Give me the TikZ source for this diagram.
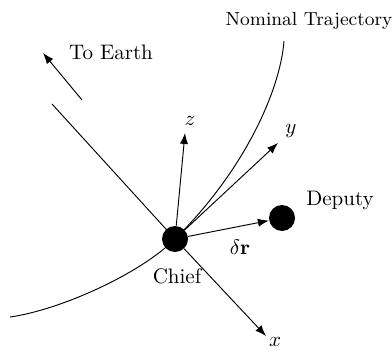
\documentclass[tikz,border=0pt]{standalone}
\usetikzlibrary{arrows.meta}
\begin{document}
\begin{tikzpicture}[x=0.476pt,y=-0.476pt,
  body/.style={circle,fill=black,inner sep=0pt,minimum size=26*0.476pt},
  axis/.style={-{Latex[length=5.2pt,width=3.9pt]},line width=0.45pt},
  lbl/.style={inner sep=0pt},
  thin line/.style={line width=0.45pt}]
\useasboundingbox (0,0) rectangle (392,349);
% coordinates
\coordinate (C) at (175,239);
\coordinate (trajTop) at (284,41);
\coordinate (trajEnd) at (10,317);
\coordinate (lineStart) at (52,104);
\coordinate (earthTail) at (82,100);
\coordinate (earthTip) at (43,53);
\coordinate (xtip) at (266,336);
\coordinate (ytip) at (278,143);
\coordinate (ztip) at (185,133);
% trajectory
\draw[thin line] (trajEnd) .. controls (60,310) and (140,274) .. (C)
  .. controls (243,172) and (280,92) .. (trajTop);
% line toward earth
\draw[thin line] (lineStart) -- (C);
\draw[axis] (earthTail) -- (earthTip);
% bodies
\node[body] (chief) at (C) {};
\node[body] (deputy) at (282,218) {};
% axes
\draw[axis] (chief) -- (xtip);
\draw[axis] (chief) -- (ytip);
\draw[axis] (chief) -- (ztip);
\draw[axis] (chief) -- (deputy);
% labels
\node[lbl] (xl) at (275,342) {$x$};
\node[lbl] (yl) at (291,131) {$y$};
\node[lbl] (zl) at (190,121) {$z$};
\node[lbl] (dr) at (240,247) {$\delta\mathbf{r}$};
\node[lbl] (depl) at (340,200) {Deputy};
\node[lbl] (chiefl) at (177,276) {Chief};
\node[lbl] (earthl) at (111,52) {To Earth};
\node[lbl,font=\small] (traj) at (309,21) {Nominal Trajectory};
\end{tikzpicture}
\end{document}
